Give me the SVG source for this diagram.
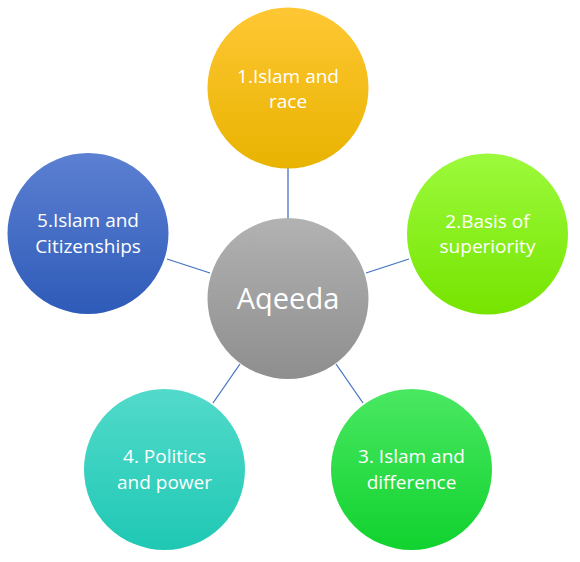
<svg xmlns="http://www.w3.org/2000/svg" width="580" height="562" viewBox="0 0 580 562">
<defs>
<linearGradient id="gY" x1="0" y1="0" x2="0" y2="1"><stop offset="0" stop-color="#FFC734"/><stop offset="1" stop-color="#E8B300"/></linearGradient>
<linearGradient id="gG" x1="0" y1="0" x2="0" y2="1"><stop offset="0" stop-color="#B2B2B2"/><stop offset="1" stop-color="#8E8E8E"/></linearGradient>
<linearGradient id="gL" x1="0" y1="0" x2="0" y2="1"><stop offset="0" stop-color="#9CFA3C"/><stop offset="1" stop-color="#76E400"/></linearGradient>
<linearGradient id="gB" x1="0" y1="0" x2="0" y2="1"><stop offset="0" stop-color="#5C80D2"/><stop offset="1" stop-color="#2E5BB8"/></linearGradient>
<linearGradient id="gT" x1="0" y1="0" x2="0" y2="1"><stop offset="0" stop-color="#52DACB"/><stop offset="1" stop-color="#1FC8B4"/></linearGradient>
<linearGradient id="gD" x1="0" y1="0" x2="0" y2="1"><stop offset="0" stop-color="#4AE862"/><stop offset="1" stop-color="#10D22E"/></linearGradient>
</defs>
<style>
.c line{stroke:#4472C4;stroke-width:1.3}
text{fill:#FFFFFF;font-family:"Open Sans","Noto Sans",sans-serif;text-anchor:middle;font-size:19px}
.big{font-size:29px}
</style>
<rect width="580" height="562" fill="#FFFFFF"/>
<g class="c" id="connectors">
<line x1="288" y1="168" x2="288" y2="219"/>
<line x1="366" y1="273" x2="409" y2="259"/>
<line x1="210" y1="273" x2="167" y2="259"/>
<line x1="240" y1="364" x2="213" y2="403"/>
<line x1="336" y1="364" x2="363" y2="403"/>
</g>
<g id="node0"><circle cx="288" cy="298.5" r="80.5" fill="url(#gG)"/><text class="big" x="288" y="309">Aqeeda</text></g>
<g id="node1"><circle cx="288" cy="88" r="80.5" fill="url(#gY)"/><text x="288" y="83">1.Islam and</text><text x="288" y="108">race</text></g>
<g id="node2"><circle cx="487.5" cy="234" r="80.5" fill="url(#gL)"/><text x="487.5" y="228">2.Basis of</text><text x="487.5" y="253">superiority</text></g>
<g id="node3"><circle cx="411.5" cy="469.5" r="80.5" fill="url(#gD)"/><text x="411.5" y="463">3. Islam and</text><text x="411.5" y="489">difference</text></g>
<g id="node4"><circle cx="164.5" cy="469.5" r="80.5" fill="url(#gT)"/><text x="164.5" y="463">4. Politics</text><text x="164.5" y="489">and power</text></g>
<g id="node5"><circle cx="88" cy="233.5" r="80.5" fill="url(#gB)"/><text x="88" y="227">5.Islam and</text><text x="88" y="253">Citizenships</text></g>
</svg>
